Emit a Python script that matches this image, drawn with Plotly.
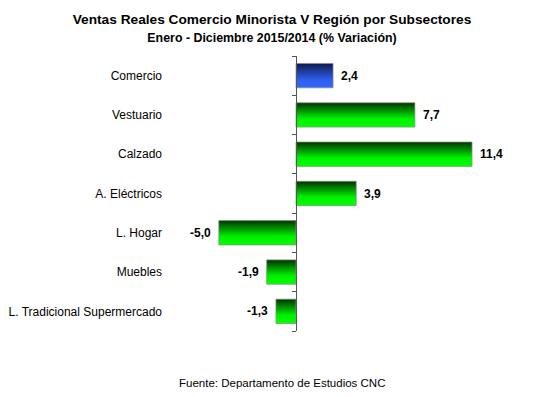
import plotly.graph_objects as go

categories = ["Comercio", "Vestuario", "Calzado", "A. Eléctricos",
              "L. Hogar", "Muebles", "L. Tradicional Supermercado"]
values = [2.4, 7.7, 11.4, 3.9, -5.0, -1.9, -1.3]
value_labels = ["2,4", "7,7", "11,4", "3,9", "-5,0", "-1,9", "-1,3"]
title_line1 = "Ventas Reales Comercio Minorista V Región por Subsectores"
title_line2 = "Enero - Diciembre 2015/2014 (% Variación)"
source_text = "Fuente: Departamento de Estudios CNC"

FONT = "Liberation Sans, Arial, sans-serif"
W, H = 536, 397
ML, MR, MT, MB = 180, 36, 56, 66
PX_PER_UNIT = 15.44
X0_PX = 296  # pixel position of zero
x_min = (ML - X0_PX) / PX_PER_UNIT
x_max = (W - MR - X0_PX) / PX_PER_UNIT

n = len(categories)
ypos = [n - 1 - i for i in range(n)]
half = 0.31

green_scale = [[0, "#003300"], [0.3, "#008a00"], [0.65, "#00f000"], [1, "#00ff00"]]
blue_scale = [[0, "#0c1a4a"], [0.3, "#1e3a9a"], [0.7, "#3060f0"], [1, "#3366ff"]]

fig = go.Figure()
for i, (cat, v, y) in enumerate(zip(categories, values, ypos)):
    scale = blue_scale if i == 0 else green_scale
    xs = [0, v, v, 0, 0]
    ys = [y - half, y - half, y + half, y + half, y - half]
    fig.add_trace(go.Scatter(
        x=xs, y=ys, mode="lines", fill="toself",
        fillgradient=dict(type="vertical", colorscale=scale,
                          start=y + half, stop=y - half),
        line=dict(color="rgba(130,145,130,0.9)", width=0.8),
        hoverinfo="skip", showlegend=False,
    ))

for v, y, lab in zip(values, ypos, value_labels):
    fig.add_annotation(
        x=v, y=y, text=lab, showarrow=False,
        xanchor="left" if v >= 0 else "right",
        xshift=6 if v >= 0 else -6,
        font=dict(family=FONT, size=12, color="#000000", weight="bold"),
    )

zero_pos = (0 - x_min) / (x_max - x_min)

fig.update_layout(
    width=W, height=H,
    margin=dict(l=ML, r=MR, t=MT, b=MB),
    paper_bgcolor="white", plot_bgcolor="white",
    font=dict(family=FONT, size=12, color="#000000"),
    title=dict(
        text=f"<b>{title_line1}</b><br><span style='font-size:12.4px'><b>{title_line2}</b></span>",
        x=272 / W, xref="container", xanchor="center",
        y=1 - 24 / H, yref="container", yanchor="top",
        font=dict(family=FONT, size=13.7, color="#000000"),
    ),
    xaxis=dict(range=[x_min, x_max], visible=False, fixedrange=True),
    yaxis=dict(
        range=[-0.5, n - 0.5], tickvals=ypos, ticktext=categories,
        ticks="", showline=False, showgrid=False, zeroline=False,
        ticklabelstandoff=17, automargin=False, fixedrange=True,
        tickfont=dict(family=FONT, size=12, color="#000000"),
    ),
    yaxis2=dict(
        range=[-0.5, n - 0.5], overlaying="y", anchor="free", position=zero_pos,
        side="left", tickvals=[k - 0.5 for k in range(n + 1)],
        ticks="outside", ticklen=4, tickcolor="#555555",
        showline=True, linecolor="#555555", linewidth=1,
        showticklabels=False, showgrid=False, zeroline=False, fixedrange=True,
    ),
    showlegend=False,
)
# invisible trace to activate the zero-line axis
fig.add_trace(go.Scatter(x=[0], y=[0], yaxis="y2", mode="markers",
                         marker=dict(opacity=0), hoverinfo="skip", showlegend=False))

fig.add_annotation(
    text=source_text, xref="paper", yref="paper",
    x=(282 - ML) / (W - ML - MR), y=-(383 - (H - MB)) / (H - MT - MB),
    xanchor="center", yanchor="middle", showarrow=False,
    font=dict(family=FONT, size=11.5, color="#000000"),
)

fig.write_html("out.html", config={"displayModeBar": False},
               post_script="document.body.style.margin='0px';")
